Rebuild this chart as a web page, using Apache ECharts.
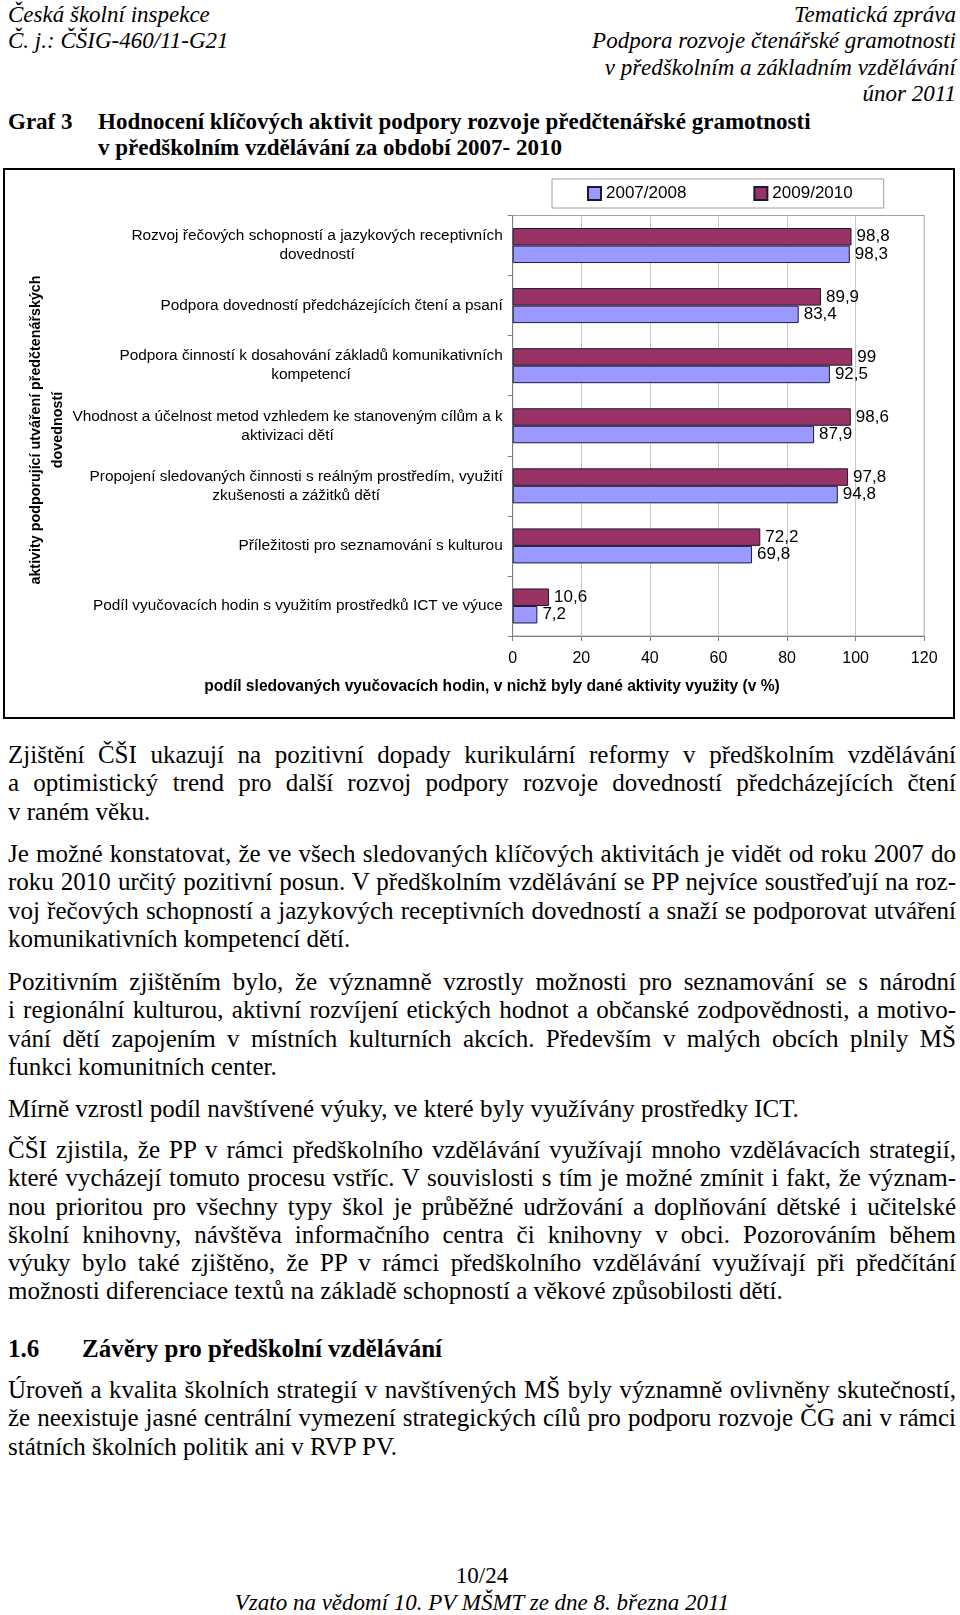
<!DOCTYPE html>
<html><head><meta charset="utf-8">
<script src="https://cdn.jsdelivr.net/npm/echarts@6/dist/echarts.min.js"></script>
<style>
html,body{margin:0;padding:0;background:#fff;}
body{width:960px;height:1615px;position:relative;overflow:hidden;font-family:'Liberation Serif','Times New Roman',serif;color:#000;}
.abs{position:absolute;white-space:nowrap;}
.hdr{font-style:italic;font-size:23px;line-height:26.4px;}
.p{position:absolute;left:8px;width:948px;font-size:25px;line-height:28.3px;}
.p div{white-space:nowrap;}
.p .j{text-align:justify;text-align-last:justify;}
#chart{position:absolute;left:0;top:160px;width:960px;height:570px;}
</style></head>
<body>
<div class="abs hdr" style="left:8px;top:2px;">Česká školní inspekce<br>Č. j.: ČŠIG-460/11-G21</div>
<div class="abs hdr" style="right:4px;top:2px;text-align:right;">Tematická zpráva<br>Podpora rozvoje čtenářské gramotnosti<br>v předškolním a základním vzdělávání<br>únor 2011</div>
<div class="abs" style="left:8px;top:109px;font-weight:bold;font-size:23px;line-height:25.8px;">Graf 3</div>
<div class="abs" style="left:98px;top:109px;font-weight:bold;font-size:23px;line-height:25.8px;">Hodnocení klíčových aktivit podpory rozvoje předčtenářské gramotnosti<br>v předškolním vzdělávání za období 2007- 2010</div>

<div id="chart"></div>

<div class="p" style="top:741px;">
<div class="j">Zjištění ČŠI ukazují na pozitivní dopady kurikulární reformy v předškolním vzdělávání</div>
<div class="j">a optimistický trend pro další rozvoj podpory rozvoje dovedností předcházejících čtení</div>
<div>v raném věku.</div>
</div>
<div class="p" style="top:840px;">
<div class="j">Je možné konstatovat, že ve všech sledovaných klíčových aktivitách je vidět od roku 2007 do</div>
<div class="j">roku 2010 určitý pozitivní posun. V předškolním vzdělávání se PP nejvíce soustřeďují na roz-</div>
<div class="j">voj řečových schopností a jazykových receptivních dovedností a snaží se podporovat utváření</div>
<div>komunikativních kompetencí dětí.</div>
</div>
<div class="p" style="top:968px;">
<div class="j">Pozitivním zjištěním bylo, že významně vzrostly možnosti pro seznamování se s národní</div>
<div class="j">i regionální kulturou, aktivní rozvíjení etických hodnot a občanské zodpovědnosti, a motivo-</div>
<div class="j">vání dětí zapojením v místních kulturních akcích. Především v malých obcích plnily MŠ</div>
<div>funkci komunitních center.</div>
</div>
<div class="p" style="top:1095px;">
<div>Mírně vzrostl podíl navštívené výuky, ve které byly využívány prostředky ICT.</div>
</div>
<div class="p" style="top:1136px;">
<div class="j">ČŠI zjistila, že PP v rámci předškolního vzdělávání využívají mnoho vzdělávacích strategií,</div>
<div class="j">které vycházejí tomuto procesu vstříc. V souvislosti s tím je možné zmínit i fakt, že význam-</div>
<div class="j">nou prioritou pro všechny typy škol je průběžné udržování a doplňování dětské i učitelské</div>
<div class="j">školní knihovny, návštěva informačního centra či knihovny v obci. Pozorováním během</div>
<div class="j">výuky bylo také zjištěno, že PP v rámci předškolního vzdělávání využívají při předčítání</div>
<div>možnosti diferenciace textů na základě schopností a věkové způsobilosti dětí.</div>
</div>
<div class="abs" style="left:8px;top:1335px;font-weight:bold;font-size:25px;line-height:28px;">1.6</div>
<div class="abs" style="left:82px;top:1335px;font-weight:bold;font-size:25px;line-height:28px;">Závěry pro předškolní vzdělávání</div>
<div class="p" style="top:1376px;">
<div class="j">Úroveň a kvalita školních strategií v navštívených MŠ byly významně ovlivněny skutečností,</div>
<div class="j">že neexistuje jasné centrální vymezení strategických cílů pro podporu rozvoje ČG ani v rámci</div>
<div>státních školních politik ani v RVP PV.</div>
</div>
<div class="abs" style="left:0;width:964px;top:1563px;text-align:center;font-size:23px;line-height:26px;">10/24</div>
<div class="abs" style="left:0;width:964px;top:1590px;text-align:center;font-size:23px;line-height:26px;font-style:italic;">Vzato na vědomí 10. PV MŠMT ze dne 8. března 2011</div>

<script>
const categories = [
  'Rozvoj řečových schopností a jazykových receptivních\ndovedností',
  'Podpora dovedností předcházejících čtení a psaní',
  'Podpora činností k dosahování základů komunikativních\nkompetencí',
  'Vhodnost a účelnost metod vzhledem ke stanoveným cílům a k\naktivizaci dětí',
  'Propojení sledovaných činnosti s reálným prostředím, využití\nzkušenosti a zážitků dětí',
  'Příležitosti pro seznamování s kulturou',
  'Podíl vyučovacích hodin s využitím prostředků ICT ve výuce'
];
const values2007 = [98.3, 83.4, 92.5, 87.9, 94.8, 69.8, 7.2];
const values2009 = [98.8, 89.9, 99, 98.6, 97.8, 72.2, 10.6];
const seriesNames = ['2007/2008', '2009/2010'];
const xAxisTitle = 'podíl sledovaných vyučovacích hodin, v nichž byly dané aktivity využity (v %)';
const yAxisTitle = 'aktivity podporující utváření předčtenářských\ndovedností';

const FONT = "'Liberation Sans', Arial, sans-serif";
const chart = echarts.init(document.getElementById('chart'), null, {renderer: 'canvas'});
const lbl = {
  show: true, position: 'right', distance: 5, color: '#000', fontSize: 17, fontFamily: FONT,
  formatter: p => String(p.value).replace('.', ',')
};
chart.setOption({
  animation: false,
  backgroundColor: '#fff',
  textStyle: {fontFamily: FONT},
  legend: {
    data: seriesNames, left: 552, top: 19,
    borderColor: '#a0a0a0', borderWidth: 1, padding: [6, 31, 6, 35],
    itemWidth: 13, itemHeight: 13, itemGap: 67, icon: 'rect',
    textStyle: {fontSize: 17, color: '#000', fontFamily: FONT}
  },
  grid: {left: 512.7, top: 55.5, width: 411.5, height: 420.5, show: true, borderColor: '#a0a0a0', borderWidth: 1, containLabel: false},
  xAxis: {
    type: 'value', min: 0, max: 120, interval: 20,
    axisLine: {show: true, lineStyle: {color: '#808080'}},
    axisTick: {show: true, length: 5, lineStyle: {color: '#808080'}},
    splitLine: {show: true, lineStyle: {color: '#c8c8c8'}},
    axisLabel: {fontSize: 16, color: '#000', margin: 15, fontFamily: FONT}
  },
  yAxis: {
    type: 'category', inverse: true, data: categories,
    axisLine: {show: true, lineStyle: {color: '#808080'}},
    axisTick: {show: true, length: 5, lineStyle: {color: '#808080'}},
    axisLabel: {
      margin: 10, color: '#000', fontSize: 15.4, lineHeight: 19, fontFamily: FONT,
      formatter: v => v.split('\n').map(l => '{c|' + l + '}').join('\n'),
      rich: {c: {align: 'center', fontSize: 15.4, lineHeight: 19, color: '#000', fontFamily: FONT}}
    }
  },
  series: [
    {name: seriesNames[1], type: 'bar', data: values2009, barWidth: 17.5, barGap: '0%',
     itemStyle: {color: '#993366', borderColor: '#1a1a33', borderWidth: 1}, label: lbl},
    {name: seriesNames[0], type: 'bar', data: values2007, barWidth: 17.5, barGap: '0%',
     itemStyle: {color: '#9999ff', borderColor: '#1a1a33', borderWidth: 1}, label: lbl}
  ],
  graphic: [
    {type: 'rect', shape: {x: 4, y: 9, width: 950, height: 549}, style: {fill: 'none', stroke: '#000', lineWidth: 2}, silent: true},
    {type: 'text', x: 492, y: 527, style: {text: xAxisTitle, font: 'bold 15.6px ' + FONT, fill: '#000', align: 'center', verticalAlign: 'middle'}},
    {type: 'text', x: 47, y: 270, rotation: Math.PI / 2, style: {text: yAxisTitle, font: 'bold 14.3px ' + FONT, fill: '#000', align: 'center', verticalAlign: 'middle', lineHeight: 22}}
  ]
});
</script>
</body></html>
